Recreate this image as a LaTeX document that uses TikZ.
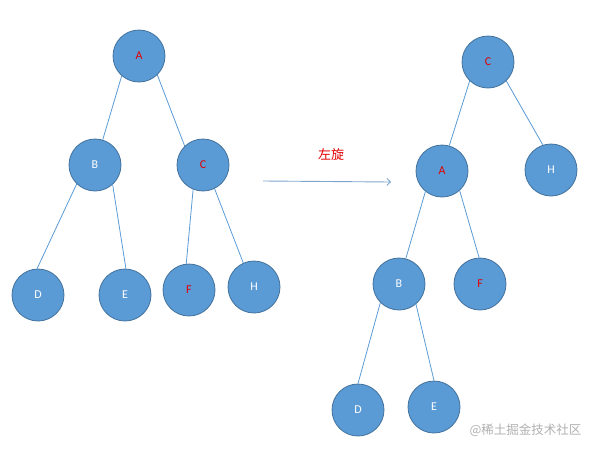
\documentclass[tikz,border=0pt]{standalone}
\usepackage{fontspec}
\setmainfont{Carlito}
\newfontfamily\cjk{Noto Sans CJK SC}
\usetikzlibrary{arrows.meta}
\definecolor{nodefill}{HTML}{5B9BD5}
\definecolor{nodeborder}{HTML}{41719C}
\definecolor{edgecol}{HTML}{5B9BD5}
\definecolor{redtxt}{HTML}{E00000}
\definecolor{arrowcol}{HTML}{7EA6CC}
\definecolor{wmcol}{HTML}{B0B0B0}
\begin{document}
\begin{tikzpicture}[x=1pt,y=-1pt,
  tnode/.style={circle,fill=nodefill,draw=nodeborder,line width=0.8pt,minimum size=52pt,inner sep=0pt,font=\fontsize{12}{12}\selectfont,text=white},
  rl/.style={text=redtxt},
  edge/.style={draw=edgecol,line width=0.8pt}]
\useasboundingbox (0,0) rectangle (593,450);
% left tree
\node[tnode,rl] (lA) at (139,56) {A};
\node[tnode] (lB) at (95,165) {B};
\node[tnode,rl] (lC) at (203,165) {C};
\node[tnode] (lD) at (38,295) {D};
\node[tnode] (lE) at (125,295) {E};
\node[tnode,rl] (lF) at (189,290) {F};
\node[tnode] (lH) at (254,287) {H};
\draw[edge] (lA.229) -- (lB.73);
\draw[edge] (lA.314) -- (lC.134);
\draw[edge] (lB.226) -- (lD.92);
\draw[edge] (lB.312) -- (lE.88);
\draw[edge] (lC.248) -- (lF.96);
\draw[edge] (lC.296) -- (lH.114);
% right tree
\node[tnode,rl] (rC) at (488,62) {C};
\node[tnode,rl] (rA) at (442,171) {A};
\node[tnode] (rH) at (551,170) {H};
\node[tnode] (rB) at (399,284) {B};
\node[tnode,rl] (rF) at (480,284) {F};
\node[tnode] (rD) at (358,410) {D};
\node[tnode] (rE) at (434,407) {E};
\draw[edge] (rC.226) -- (rA.74);
\draw[edge] (rC.314) -- (rH.108);
\draw[edge] (rA.231) -- (rB.75);
\draw[edge] (rA.312) -- (rF.92);
\draw[edge] (rB.225) -- (rD.90);
\draw[edge] (rB.310) -- (rE.90);
% arrow
\coordinate (arS) at (263,181);
\coordinate (arE) at (391,182);
\draw[draw=arrowcol,line width=0.9pt,-{Straight Barb[length=3.5pt,width=7pt]}] (arS) -- (arE);
\node[text=redtxt,font=\cjk\fontsize{13}{13}\selectfont] (lbl) at (331,155) {左旋};
% watermark
\node[text=wmcol,font=\cjk\fontsize{12.5}{13}\selectfont,anchor=east] (wm) at (585,430) {@稀土掘金技术社区};
\end{tikzpicture}
\end{document}
